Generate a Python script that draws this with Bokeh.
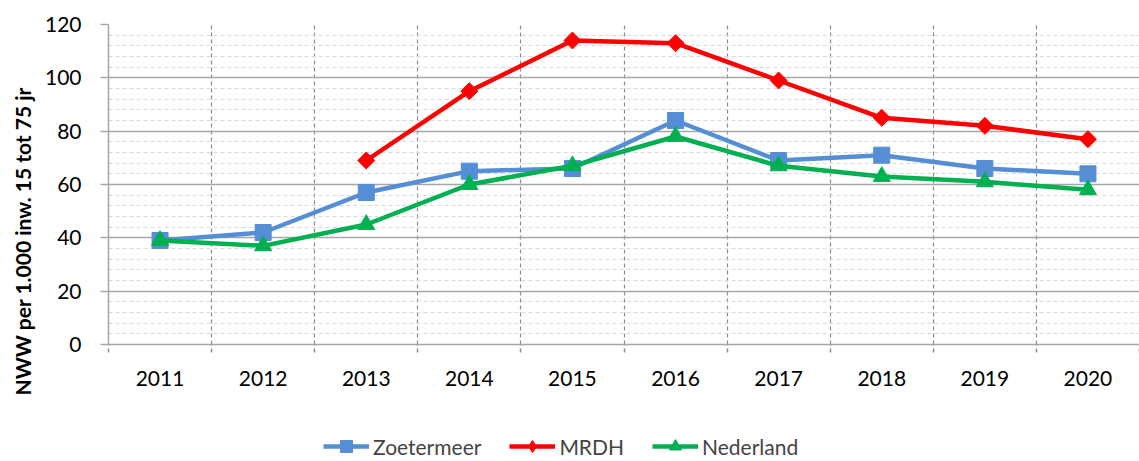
import numpy as np
from bokeh.plotting import figure
from bokeh.layouts import column
from bokeh.models import (FixedTicker, SingleIntervalTicker, Range1d, Title, Legend, LegendItem)
from bokeh.embed import file_html
from bokeh.resources import INLINE

years = [2011, 2012, 2013, 2014, 2015, 2016, 2017, 2018, 2019, 2020]
zoetermeer = [39, 42, 57, 65, 66, 84, 69, 71, 66, 64]
mrdh = [np.nan, np.nan, 69, 95, 114, 113, 99, 85, 82, 77]
nederland = [39, 37, 45, 60, 67, 78, 67, 63, 61, 58]
y_title = "NWW per 1.000 inw. 15 tot 75 jr"

FONT = "Lato"
boundaries = [y - 0.5 for y in years] + [years[-1] + 0.5]

p = figure(width=1139, height=410, output_backend="svg", toolbar_location=None,
           x_range=Range1d(years[0] - 0.5, years[-1] + 0.5),
           y_range=Range1d(0, 120),
           min_border_left=108, min_border_right=0, min_border_top=24, min_border_bottom=66)
p.outline_line_color = None

# y axis
p.yaxis.ticker = SingleIntervalTicker(interval=20, num_minor_ticks=5)
p.yaxis.major_label_text_font = FONT
p.yaxis.major_label_text_font_size = "21px"
p.yaxis.major_label_text_color = "#000000"
p.yaxis.axis_line_color = "#a6a6a6"
p.yaxis.axis_line_width = 1.5
p.yaxis.major_tick_line_color = "#a6a6a6"
p.yaxis.major_tick_line_width = 1.5
p.yaxis.major_tick_out = 8
p.yaxis.major_tick_in = 0
p.yaxis.minor_tick_out = 0
p.yaxis.minor_tick_in = 0
p.yaxis.major_label_standoff = 19

p.ygrid.grid_line_color = "#a6a6a6"
p.ygrid.grid_line_width = 1.5
p.ygrid.minor_grid_line_color = "#d9d9d9"
p.ygrid.minor_grid_line_dash = "4 3"

# x axis
p.xaxis.ticker = FixedTicker(ticks=years, minor_ticks=boundaries)
p.xaxis.major_label_text_font = FONT
p.xaxis.major_label_text_font_size = "21px"
p.xaxis.major_label_text_color = "#000000"
p.xaxis.axis_line_color = "#a6a6a6"
p.xaxis.axis_line_width = 1.5
p.xaxis.major_tick_out = 0
p.xaxis.major_tick_in = 0
p.xaxis.minor_tick_out = 8
p.xaxis.minor_tick_in = 0
p.xaxis.minor_tick_line_color = "#8c8c8c"
p.xaxis.minor_tick_line_width = 1.5
p.xaxis.minor_tick_line_dash = "4 3"
p.xaxis.major_label_standoff = 18

p.xgrid.ticker = FixedTicker(ticks=boundaries)
p.xgrid.grid_line_color = "#8c8c8c"
p.xgrid.grid_line_width = 1.2
p.xgrid.grid_line_dash = "4 3"

p.add_layout(Title(text=y_title, align="left", offset=-51, standoff=14,
                   text_font=FONT, text_font_size="21px", text_font_style="bold",
                   text_color="#000000"), "left")

# name, values, colour, plot marker, size, angle, legend marker
series = [
    ("Zoetermeer", zoetermeer, "#558ED5", "square", 16, 0.0, "square"),
    ("MRDH", mrdh, "#FF0000", "square", 12, np.pi / 4, "diamond"),
    ("Nederland", nederland, "#00B050", "triangle", 17, 0.0, "triangle"),
]

# legend panel: a second, axis-less figure whose renderers stay out of view
lg = figure(width=1139, height=51, output_backend="svg", toolbar_location=None,
            x_range=Range1d(0, 1), y_range=Range1d(0, 1),
            x_axis_location=None, y_axis_location=None,
            min_border_left=0, min_border_right=0, min_border_top=0, min_border_bottom=0)
lg.outline_line_color = None
lg.grid.visible = False

items = []
for name, vals, color, marker, size, ang, lmarker in series:
    p.line(years, vals, line_color=color, line_width=4.5)
    p.scatter(years, vals, marker=marker, size=size, angle=ang,
              fill_color=color, line_color=color)
    l2 = lg.line(years, vals, line_color=color, line_width=4.5)
    s2 = lg.scatter(years, vals, marker=lmarker, size=size,
                    fill_color=color, line_color=color)
    items.append(LegendItem(label=name, renderers=[l2, s2]))

legend = Legend(items=items, orientation="horizontal", location=(215, 0),
                border_line_color=None, background_fill_alpha=0,
                label_text_font=FONT, label_text_font_size="21px",
                glyph_width=46, glyph_height=30, label_standoff=4, spacing=28,
                padding=0, margin=0)
lg.add_layout(legend, "center")

layout = column(p, lg, spacing=0)
open("out.html", "w").write(file_html(layout, INLINE))
